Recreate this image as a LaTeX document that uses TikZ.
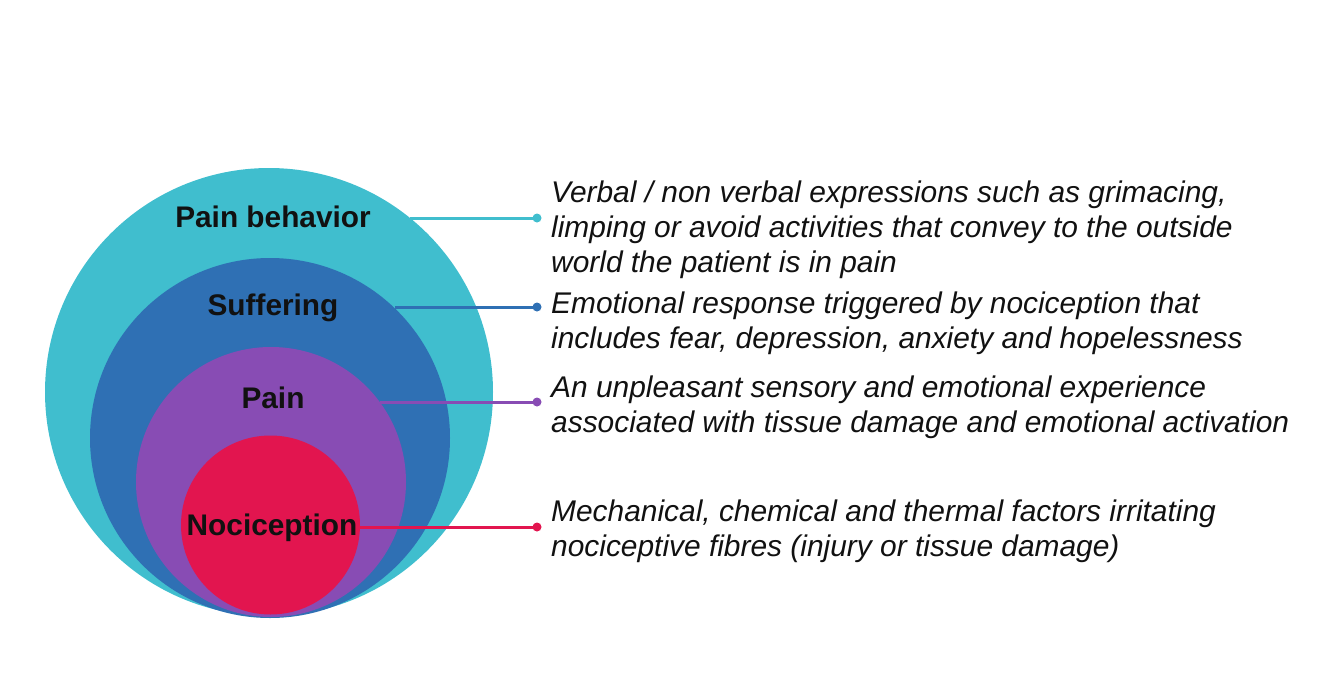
\documentclass[tikz,border=0pt]{standalone}
\usepackage{fontspec}
\setmainfont{Liberation Sans}
\definecolor{cCyan}{HTML}{40BECE}
\definecolor{cBlue}{HTML}{2F70B4}
\definecolor{cPurple}{HTML}{884CB4}
\definecolor{cRed}{HTML}{E2154F}
\definecolor{cText}{HTML}{111111}
\begin{document}
\begin{tikzpicture}[x=1pt,y=-1pt,
  ring/.style={circle,inner sep=0pt,outer sep=0pt,minimum size=#1},
  lbl/.style={font=\bfseries\fontsize{29.8}{35}\selectfont,text=cText,anchor=base,inner sep=0pt},
  desc/.style={font=\itshape\fontsize{29.9}{35}\selectfont,text=cText,anchor=base west,align=left,inner sep=0pt},
  conn/.style={line width=3pt},
  dotn/.style={circle,inner sep=0pt,minimum size=9pt}]
\useasboundingbox (0,0) rectangle (1334,678);
\node[ring=448pt,fill=cCyan] (outer) at (269,392) {};
\node[ring=360pt,fill=cBlue] (blue) at (270,438) {};
\node[ring=270pt,fill=cPurple] (purple) at (271,482) {};
\node[ring=179pt,fill=cRed] (red) at (270.5,525) {};
\node[lbl] (l1) at (273,227) {Pain behavior};
\node[lbl] (l2) at (273,315) {Suffering};
\node[lbl] (l3) at (273,408) {Pain};
\node[lbl] (l4) at (272,535) {Nociception};
\node[dotn,fill=cCyan] (d1) at (537,218) {};
\node[dotn,fill=cBlue] (d2) at (537,307) {};
\node[dotn,fill=cPurple] (d3) at (537,402) {};
\node[dotn,fill=cRed] (d4) at (537,527) {};
\draw[conn,cCyan] (d1.center -| outer.51) -- (d1.center);
\draw[conn,cBlue] (d2.center -| blue.46.7) -- (d2.center);
\draw[conn,cPurple] (d3.center -| purple.36.34) -- (d3.center);
\draw[conn,cRed] (d4.center -| red.-1) -- (d4.center);
\node[desc] (t1) at (551,272) {Verbal / non verbal expressions such as grimacing,\\limping or avoid activities that convey to the outside\\world the patient is in pain};
\node[desc] (t2) at (551,348) {Emotional response triggered by nociception that\\includes fear, depression, anxiety and hopelessness};
\node[desc] (t3) at (551,432) {An unpleasant sensory and emotional experience\\associated with tissue damage and emotional activation};
\node[desc] (t4) at (551,556) {Mechanical, chemical and thermal factors irritating\\nociceptive fibres (injury or tissue damage)};
\end{tikzpicture}
\end{document}
